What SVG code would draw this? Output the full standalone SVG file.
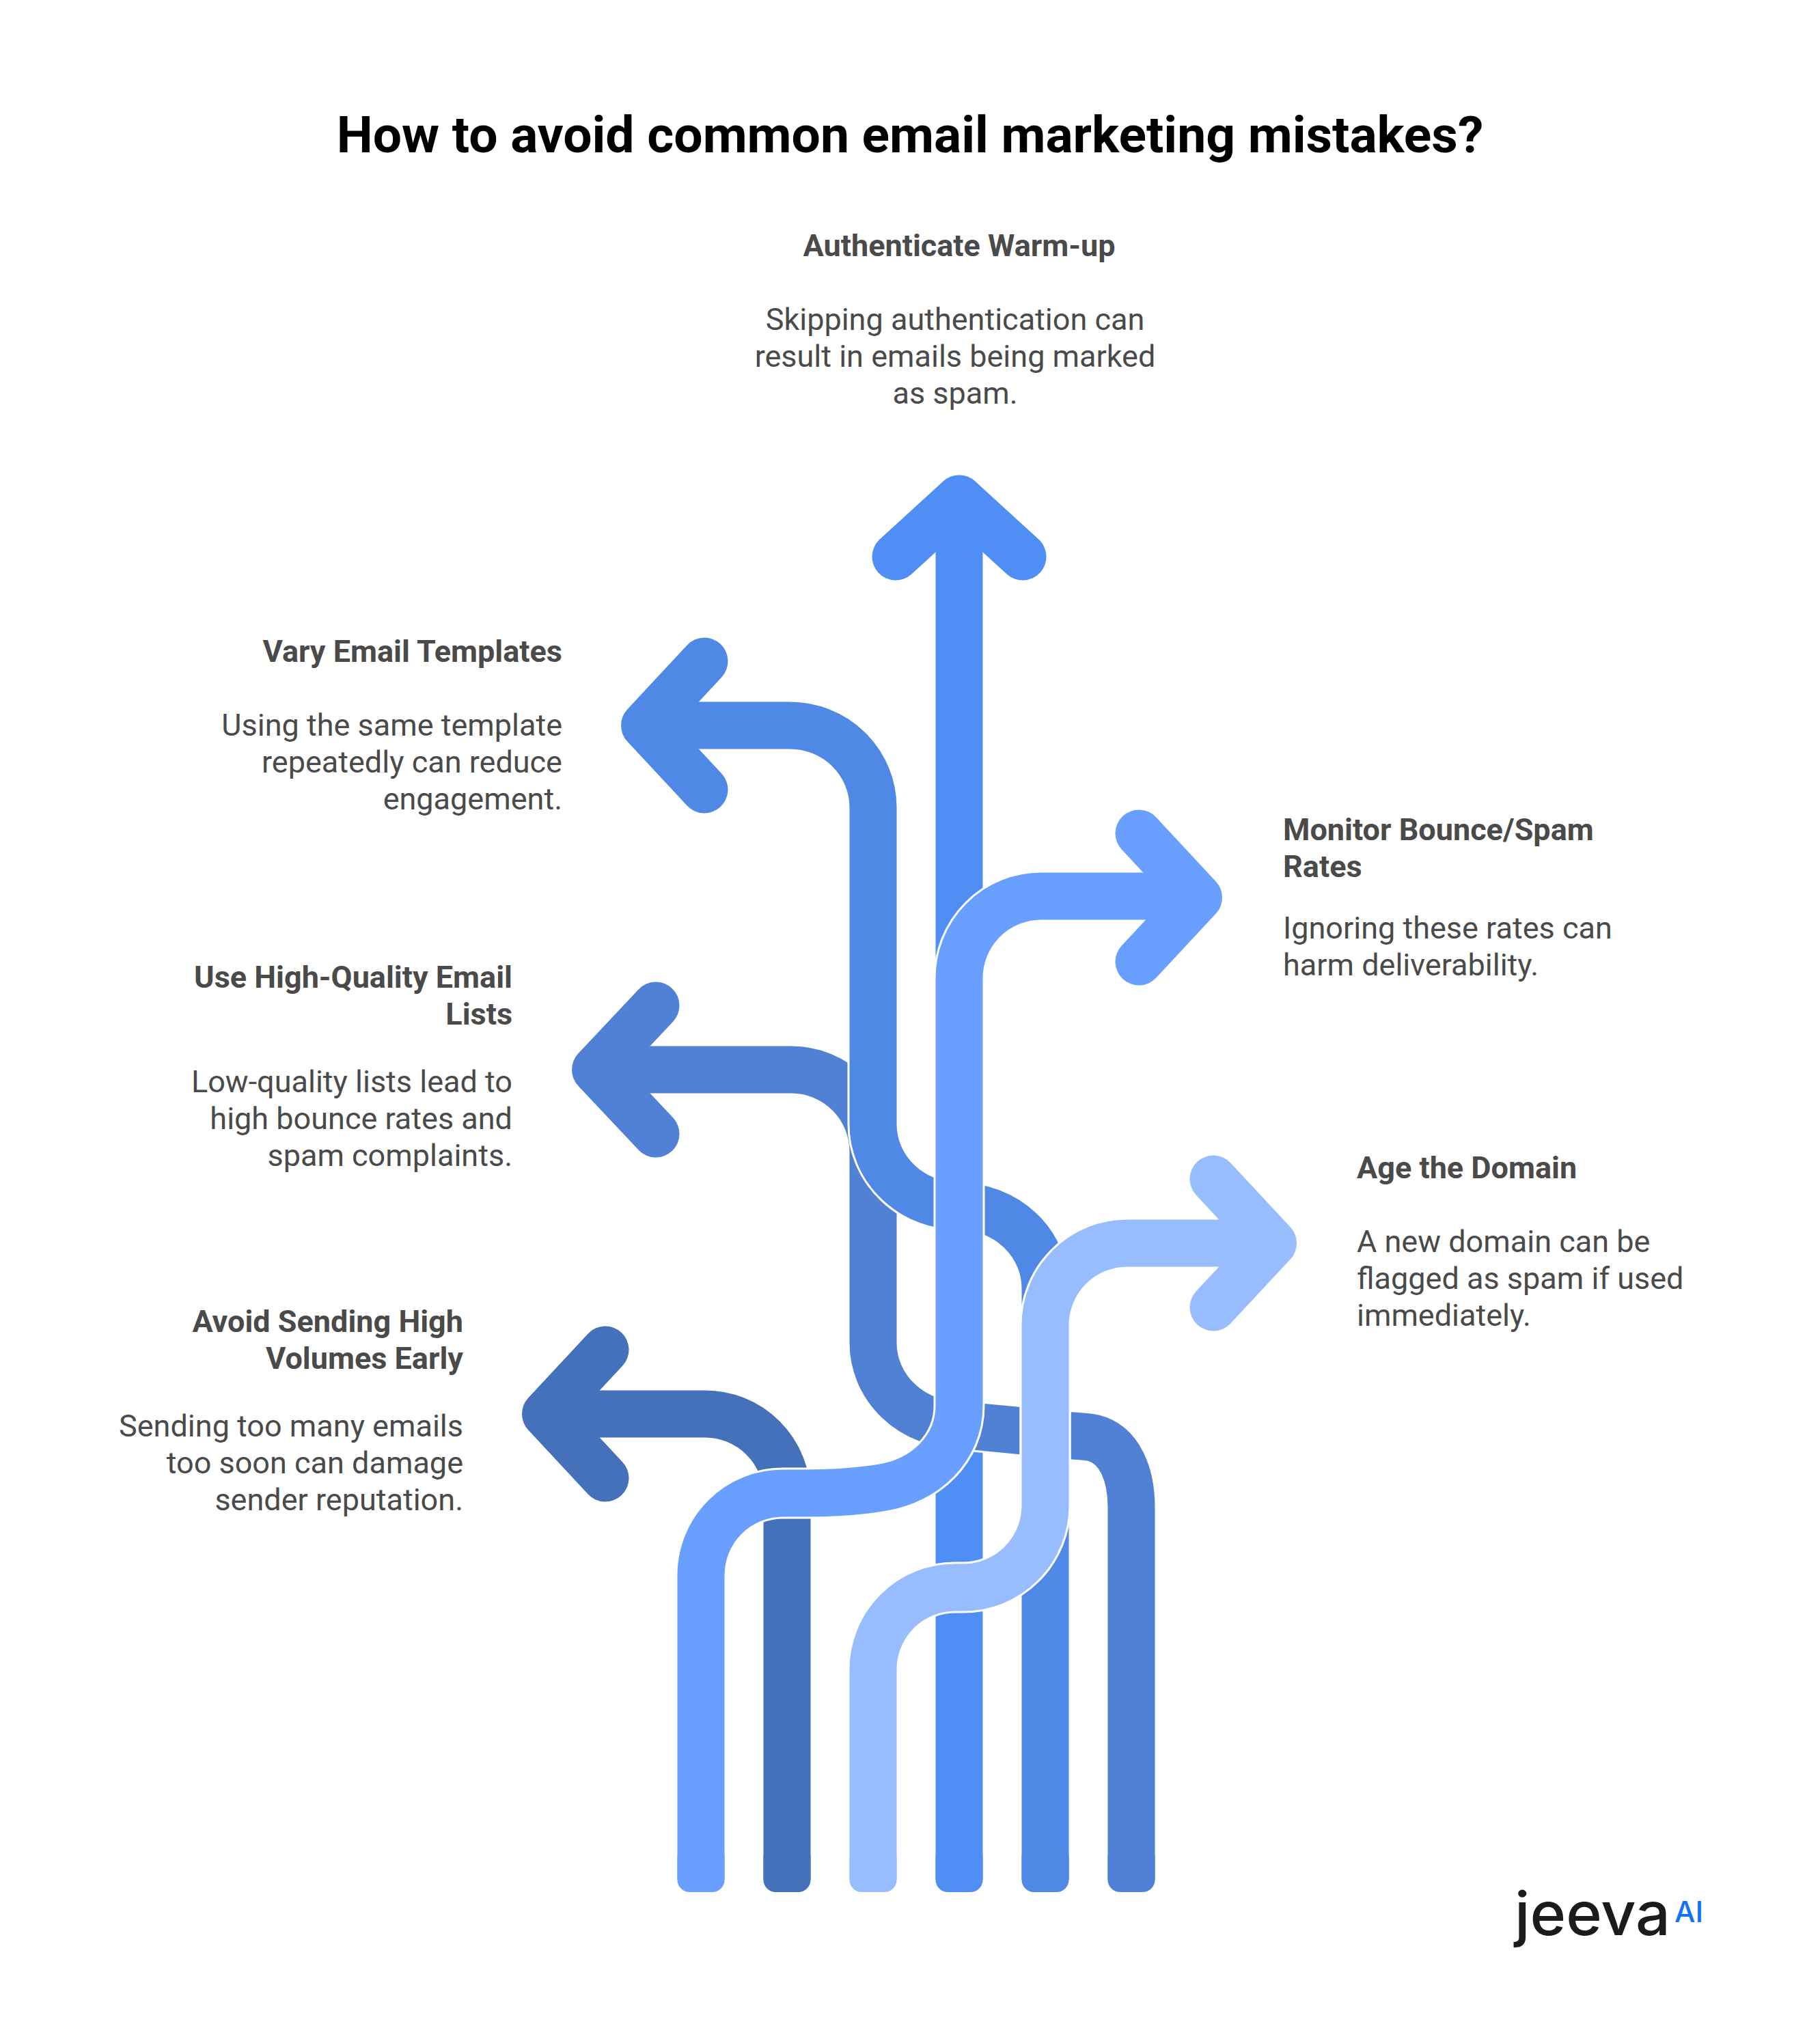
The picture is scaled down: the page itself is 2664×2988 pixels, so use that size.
<svg xmlns="http://www.w3.org/2000/svg" width="2664" height="2988" viewBox="0 0 2664 2988">
<style>
text{font-family:Roboto,"Liberation Sans",sans-serif;fill:#4A4A4A}
.t{font-size:75px;font-weight:700;fill:#000;text-anchor:middle}
.h{font-size:45px;font-weight:700}
.b{font-size:45px;font-weight:400}
.r{text-anchor:end}
.m{text-anchor:middle}
.halo{fill:none;stroke:#fff;stroke-width:75}
.s{fill:none;stroke-width:69;stroke-linejoin:round}
.w{fill:none;stroke-width:69;stroke-linecap:round;stroke-linejoin:round}
.e{stroke:none}
</style>
<rect width="2664" height="2988" fill="#fff"/>
<text class="t" x="1332" y="223">How to avoid common email marketing mistakes?</text>
<g id="connectors">
<g id="arrow-authenticate">
<path class="s" stroke="#4F8FF5" d="M1404 2752V740"/><rect class="e" x="1369.500" y="2700" width="69" height="70" rx="18" fill="#4F8FF5"/>
<path class="w" stroke="#4F8FF5" d="M1311 815L1404 730L1497 815"/>
</g>
<g id="arrow-avoid">
<path class="s" stroke="#4571BA" d="M1152 2752V2190A120 120 0 0 0 1032 2070H800"/><rect class="e" x="1117.500" y="2700" width="69" height="70" rx="18" fill="#4571BA"/>
<path class="w" stroke="#4571BA" d="M886 1976L798.500 2070L886 2164"/>
</g>
<g id="arrow-quality">
<path class="halo" d="M1656 2207C1656 2160 1640 2115 1600 2105L1404 2086A126 120 0 0 1 1278 1966V1686A120 120 0 0 0 1159 1566H900"/>
<path class="s" stroke="#5181D5" d="M1656 2752V2207C1656 2160 1640 2115 1600 2105Q1590 2103 1570 2102L1404 2086A126 120 0 0 1 1278 1966V1686A120 120 0 0 0 1159 1566H880"/><rect class="e" x="1621.500" y="2700" width="69" height="70" rx="18" fill="#5181D5"/>
<path class="w" stroke="#5181D5" d="M960 1472L871.500 1566L960 1660"/>
</g>
<g id="arrow-vary">
<path class="halo" d="M1530 2400V1886A126 120 0 0 0 1404 1766A126 120 0 0 1 1278 1646V1182A122 120 0 0 0 1156 1062H1000"/>
<path class="s" stroke="#4F88E5" d="M1530 2752V1886A126 120 0 0 0 1404 1766A126 120 0 0 1 1278 1646V1182A122 120 0 0 0 1156 1062H960"/><rect class="e" x="1495.500" y="2700" width="69" height="70" rx="18" fill="#4F88E5"/>
<path class="w" stroke="#4F88E5" d="M1031 968L943.500 1062L1031 1156"/>
</g>
<g id="arrow-monitor">
<path class="halo" d="M1026 2400V2306A120 120 0 0 1 1146 2186H1180C1225 2186 1260 2183 1290 2178C1355 2168 1404 2120 1404 2058V1432A120 120 0 0 1 1524 1312H1700"/>
<path class="s" stroke="#699FFE" d="M1026 2752V2306A120 120 0 0 1 1146 2186H1180C1225 2186 1260 2183 1290 2178C1355 2168 1404 2120 1404 2058V1432A120 120 0 0 1 1524 1312H1740"/><rect class="e" x="991.500" y="2700" width="69" height="70" rx="18" fill="#699FFE"/>
<path class="w" stroke="#699FFE" d="M1667 1220L1754.500 1314L1667 1408"/>
</g>
<g id="arrow-age">
<path class="halo" d="M1278 2600V2444A120 120 0 0 1 1398 2324H1410A120 120 0 0 0 1530 2204V1940A120 120 0 0 1 1650 1820H1800"/>
<path class="s" stroke="#98BDFF" d="M1278 2752V2444A120 120 0 0 1 1398 2324H1410A120 120 0 0 0 1530 2204V1940A120 120 0 0 1 1650 1820H1860"/><rect class="e" x="1243.500" y="2700" width="69" height="70" rx="18" fill="#98BDFF"/>
<path class="w" stroke="#98BDFF" d="M1776 1726L1863.500 1820L1776 1914"/>
</g>
</g>
<g id="label-authenticate">
<text class="h m" x="1404" y="375">Authenticate Warm-up</text>
<text class="b m" x="1398" y="483">Skipping authentication can</text>
<text class="b m" x="1398" y="537">result in emails being marked</text>
<text class="b m" x="1398" y="591">as spam.</text>
</g>
<g id="label-vary">
<text class="h r" x="823" y="969">Vary Email Templates</text>
<text class="b r" x="823" y="1077">Using the same template</text>
<text class="b r" x="823" y="1131">repeatedly can reduce</text>
<text class="b r" x="823" y="1185">engagement.</text>
</g>
<g id="label-quality">
<text class="h r" x="750" y="1446">Use High-Quality Email</text>
<text class="h r" x="750" y="1500">Lists</text>
<text class="b r" x="750" y="1599">Low-quality lists lead to</text>
<text class="b r" x="750" y="1653">high bounce rates and</text>
<text class="b r" x="750" y="1707">spam complaints.</text>
</g>
<g id="label-avoid">
<text class="h r" x="678" y="1950">Avoid Sending High</text>
<text class="h r" x="678" y="2004">Volumes Early</text>
<text class="b r" x="678" y="2103">Sending too many emails</text>
<text class="b r" x="678" y="2157">too soon can damage</text>
<text class="b r" x="678" y="2211">sender reputation.</text>
</g>
<g id="label-monitor">
<text class="h" x="1878" y="1230">Monitor Bounce/Spam</text>
<text class="h" x="1878" y="1284">Rates</text>
<text class="b" x="1878" y="1374">Ignoring these rates can</text>
<text class="b" x="1878" y="1428">harm deliverability.</text>
</g>
<g id="label-age">
<text class="h" x="1986" y="1725">Age the Domain</text>
<text class="b" x="1986" y="1833">A new domain can be</text>
<text class="b" x="1986" y="1887">flagged as spam if used</text>
<text class="b" x="1986" y="1941">immediately.</text>
</g>
<g id="logo">
<text x="2217" y="2833" font-size="88" font-weight="500" textLength="228" lengthAdjust="spacingAndGlyphs" style="font-family:Inter,Roboto,sans-serif;fill:#1b1b1f">jeeva</text>
<text x="2451" y="2814" font-size="43" font-weight="500" style="font-family:Inter,Roboto,sans-serif;fill:#1272F5">AI</text>
</g>
</svg>
